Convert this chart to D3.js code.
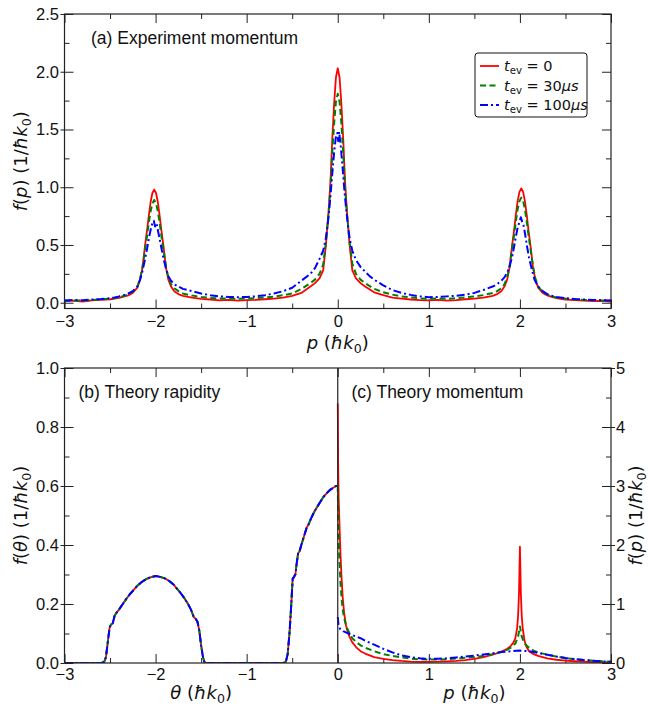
<!DOCTYPE html>
<html>
<head>
<meta charset="utf-8">
<script src="https://cdnjs.cloudflare.com/ajax/libs/d3/7.8.5/d3.min.js"></script>
<style>
  body { margin: 0; background: #fff; }
  svg { display: block; }
  .tick text { font-family: "Liberation Sans", Arial, sans-serif; font-size: 16.5px; fill: #111; }
  .tick line { stroke: #222; stroke-width: 1; }
</style>
</head>
<body>
<script>
// (a) experiment momentum, [p, f(p)]
const expRed = [[-3,0.012],[-2.9,0.018],[-2.8,0.010],[-2.7,0.020],[-2.6,0.024],[-2.5,0.030],[-2.45,0.036],[-2.4,0.042],[-2.35,0.052],[-2.3,0.064],[-2.25,0.085],[-2.2,0.13],[-2.17,0.2],[-2.145,0.3],[-2.115,0.5],[-2.095,0.62],[-2.075,0.75],[-2.055,0.87],[-2.035,0.95],[-2.015,0.98],[-1.995,0.95],[-1.975,0.87],[-1.955,0.75],[-1.935,0.62],[-1.915,0.5],[-1.885,0.3],[-1.86,0.2],[-1.83,0.14],[-1.795,0.1],[-1.75,0.075],[-1.7,0.06],[-1.6,0.045],[-1.5,0.034],[-1.4,0.028],[-1.3,0.020],[-1.2,0.024],[-1.1,0.018],[-1.0,0.022],[-0.9,0.024],[-0.8,0.03],[-0.7,0.036],[-0.6,0.045],[-0.5,0.06],[-0.4,0.085],[-0.3,0.14],[-0.25,0.17],[-0.2,0.21],[-0.16,0.28],[-0.13,0.5],[-0.1,0.8],[-0.08,1.05],[-0.06,1.42],[-0.04,1.72],[-0.02,1.95],[0,2.03],[0.02,1.95],[0.04,1.72],[0.06,1.42],[0.08,1.05],[0.1,0.8],[0.13,0.5],[0.16,0.28],[0.2,0.21],[0.25,0.17],[0.3,0.14],[0.4,0.09],[0.5,0.065],[0.6,0.045],[0.7,0.035],[0.8,0.028],[0.9,0.022],[1.0,0.02],[1.1,0.024],[1.2,0.018],[1.3,0.022],[1.4,0.03],[1.5,0.036],[1.6,0.045],[1.7,0.06],[1.75,0.075],[1.795,0.1],[1.83,0.14],[1.86,0.2],[1.885,0.3],[1.915,0.5],[1.935,0.62],[1.955,0.76],[1.975,0.88],[1.995,0.96],[2.015,0.99],[2.035,0.96],[2.055,0.88],[2.075,0.76],[2.095,0.62],[2.115,0.5],[2.145,0.3],[2.17,0.2],[2.2,0.13],[2.25,0.085],[2.3,0.064],[2.35,0.05],[2.4,0.04],[2.5,0.028],[2.6,0.022],[2.7,0.018],[2.8,0.014],[2.9,0.016],[3,0.01]]
const expGreen = [[-3,0.016],[-2.9,0.02],[-2.8,0.018],[-2.7,0.024],[-2.6,0.028],[-2.5,0.035],[-2.45,0.04],[-2.4,0.048],[-2.35,0.058],[-2.3,0.072],[-2.25,0.095],[-2.2,0.14],[-2.17,0.21],[-2.145,0.3],[-2.115,0.46],[-2.095,0.57],[-2.075,0.69],[-2.055,0.79],[-2.035,0.86],[-2.015,0.89],[-1.995,0.86],[-1.975,0.79],[-1.955,0.69],[-1.935,0.57],[-1.915,0.47],[-1.885,0.31],[-1.86,0.22],[-1.83,0.16],[-1.795,0.125],[-1.75,0.1],[-1.7,0.08],[-1.6,0.062],[-1.5,0.05],[-1.4,0.042],[-1.3,0.036],[-1.2,0.038],[-1.1,0.034],[-1.0,0.036],[-0.9,0.04],[-0.8,0.045],[-0.7,0.052],[-0.6,0.065],[-0.5,0.08],[-0.4,0.12],[-0.3,0.17],[-0.25,0.2],[-0.2,0.25],[-0.16,0.33],[-0.13,0.52],[-0.1,0.78],[-0.08,1.0],[-0.06,1.3],[-0.04,1.55],[-0.02,1.74],[0,1.81],[0.02,1.74],[0.04,1.55],[0.06,1.3],[0.08,1.0],[0.1,0.78],[0.13,0.52],[0.16,0.34],[0.2,0.25],[0.25,0.2],[0.3,0.17],[0.4,0.12],[0.5,0.09],[0.6,0.07],[0.7,0.055],[0.8,0.046],[0.9,0.038],[1.0,0.034],[1.1,0.036],[1.2,0.034],[1.3,0.04],[1.4,0.046],[1.5,0.055],[1.6,0.066],[1.7,0.085],[1.75,0.1],[1.795,0.125],[1.83,0.16],[1.86,0.22],[1.885,0.31],[1.915,0.48],[1.935,0.58],[1.955,0.7],[1.975,0.81],[1.995,0.88],[2.015,0.91],[2.035,0.88],[2.055,0.81],[2.075,0.7],[2.095,0.58],[2.115,0.47],[2.145,0.31],[2.17,0.21],[2.2,0.14],[2.25,0.095],[2.3,0.07],[2.35,0.056],[2.4,0.046],[2.5,0.036],[2.6,0.03],[2.7,0.024],[2.8,0.022],[2.9,0.02],[3,0.018]]
const expBlue = [[-3,0.02],[-2.9,0.024],[-2.8,0.022],[-2.7,0.028],[-2.6,0.032],[-2.5,0.04],[-2.45,0.046],[-2.4,0.055],[-2.35,0.066],[-2.3,0.08],[-2.25,0.1],[-2.2,0.14],[-2.17,0.2],[-2.145,0.27],[-2.115,0.38],[-2.095,0.46],[-2.075,0.55],[-2.055,0.63],[-2.035,0.69],[-2.02,0.71],[-2.005,0.66],[-1.99,0.69],[-1.975,0.63],[-1.955,0.55],[-1.935,0.47],[-1.915,0.39],[-1.885,0.29],[-1.86,0.23],[-1.83,0.19],[-1.795,0.16],[-1.75,0.14],[-1.7,0.12],[-1.6,0.1],[-1.5,0.08],[-1.4,0.065],[-1.3,0.055],[-1.2,0.05],[-1.1,0.048],[-1.0,0.05],[-0.9,0.055],[-0.8,0.065],[-0.7,0.08],[-0.6,0.1],[-0.5,0.13],[-0.4,0.19],[-0.3,0.25],[-0.25,0.3],[-0.2,0.38],[-0.16,0.45],[-0.13,0.56],[-0.1,0.75],[-0.08,0.92],[-0.06,1.12],[-0.04,1.3],[-0.02,1.44],[-0.005,1.47],[0.005,1.4],[0.015,1.48],[0.03,1.38],[0.05,1.2],[0.07,1.0],[0.09,0.83],[0.11,0.68],[0.13,0.56],[0.16,0.45],[0.2,0.37],[0.25,0.31],[0.3,0.27],[0.35,0.23],[0.4,0.2],[0.5,0.15],[0.6,0.11],[0.7,0.085],[0.8,0.068],[0.9,0.055],[1.0,0.048],[1.1,0.05],[1.2,0.055],[1.3,0.06],[1.4,0.07],[1.5,0.085],[1.6,0.11],[1.7,0.14],[1.75,0.16],[1.795,0.19],[1.83,0.22],[1.86,0.26],[1.885,0.31],[1.915,0.4],[1.935,0.48],[1.955,0.57],[1.975,0.65],[1.995,0.7],[2.01,0.74],[2.025,0.7],[2.04,0.67],[2.06,0.58],[2.08,0.48],[2.1,0.39],[2.13,0.29],[2.16,0.2],[2.2,0.14],[2.25,0.1],[2.3,0.075],[2.35,0.06],[2.4,0.05],[2.5,0.04],[2.6,0.032],[2.7,0.028],[2.8,0.024],[2.9,0.022],[3,0.02]]

// (b) theory rapidity, [theta, f(theta)] - the three curves lie on top of each other
const rapidity = [[-3,0],[-2.6,0],[-2.565,0.003],[-2.545,0.02],[-2.525,0.07],[-2.505,0.12],[-2.49,0.13],[-2.47,0.135],[-2.45,0.16],[-2.43,0.17],[-2.4,0.182],[-2.36,0.2],[-2.32,0.218],[-2.28,0.234],[-2.24,0.248],[-2.2,0.262],[-2.15,0.275],[-2.1,0.285],[-2.05,0.291],[-2.0,0.295],[-1.95,0.292],[-1.9,0.287],[-1.85,0.278],[-1.8,0.265],[-1.76,0.25],[-1.72,0.235],[-1.68,0.218],[-1.64,0.198],[-1.61,0.18],[-1.58,0.155],[-1.56,0.15],[-1.54,0.14],[-1.52,0.11],[-1.5,0.06],[-1.48,0.02],[-1.46,0],[-0.6,0],[-0.57,0.004],[-0.55,0.03],[-0.53,0.1],[-0.51,0.2],[-0.495,0.285],[-0.48,0.292],[-0.465,0.3],[-0.45,0.34],[-0.435,0.372],[-0.42,0.378],[-0.4,0.4],[-0.38,0.42],[-0.36,0.44],[-0.34,0.46],[-0.32,0.47],[-0.3,0.485],[-0.27,0.505],[-0.24,0.522],[-0.2,0.542],[-0.16,0.562],[-0.12,0.576],[-0.08,0.588],[-0.04,0.596],[-0.02,0.6],[0,0.6]]

// (c) theory momentum, [p, f(p)]
const momRed = [[0,4.4],[0.005,3.3],[0.01,2.8],[0.02,2.3],[0.03,1.85],[0.04,1.5],[0.055,1.1],[0.07,0.85],[0.09,0.64],[0.11,0.52],[0.13,0.44],[0.16,0.35],[0.2,0.27],[0.25,0.2],[0.3,0.16],[0.4,0.1],[0.5,0.07],[0.6,0.05],[0.7,0.035],[0.8,0.025],[0.9,0.02],[1.0,0.02],[1.1,0.022],[1.2,0.028],[1.3,0.036],[1.4,0.05],[1.5,0.07],[1.6,0.1],[1.7,0.14],[1.78,0.18],[1.85,0.23],[1.9,0.29],[1.93,0.35],[1.95,0.42],[1.97,0.6],[1.98,0.8],[1.99,1.2],[1.995,1.6],[2.0,1.97],[2.005,1.6],[2.01,1.2],[2.02,0.8],[2.03,0.6],[2.05,0.38],[2.07,0.28],[2.1,0.2],[2.15,0.15],[2.2,0.12],[2.3,0.08],[2.4,0.055],[2.5,0.04],[2.6,0.03],[2.7,0.022],[2.8,0.016],[2.9,0.012],[3.0,0.01]]
const momGreen = [[0,3.0],[0.005,2.5],[0.01,2.1],[0.02,1.7],[0.03,1.35],[0.045,1.05],[0.06,0.85],[0.08,0.7],[0.1,0.6],[0.13,0.5],[0.16,0.42],[0.2,0.36],[0.25,0.3],[0.3,0.26],[0.4,0.2],[0.5,0.15],[0.6,0.12],[0.7,0.095],[0.8,0.075],[0.9,0.063],[1.0,0.057],[1.1,0.058],[1.2,0.065],[1.3,0.075],[1.4,0.088],[1.5,0.1],[1.6,0.12],[1.7,0.15],[1.8,0.19],[1.85,0.22],[1.9,0.26],[1.95,0.33],[1.98,0.45],[2.0,0.62],[2.02,0.45],[2.05,0.33],[2.1,0.26],[2.15,0.21],[2.2,0.18],[2.3,0.14],[2.4,0.11],[2.5,0.085],[2.6,0.065],[2.7,0.05],[2.8,0.038],[2.9,0.028],[3.0,0.02]]
const momBlue = [[0,0.78],[0.01,0.62],[0.03,0.57],[0.06,0.54],[0.1,0.51],[0.15,0.48],[0.2,0.45],[0.25,0.42],[0.3,0.38],[0.4,0.31],[0.5,0.24],[0.6,0.18],[0.7,0.13],[0.8,0.1],[0.9,0.08],[1.0,0.07],[1.1,0.07],[1.2,0.08],[1.3,0.095],[1.4,0.11],[1.5,0.125],[1.6,0.145],[1.7,0.165],[1.8,0.185],[1.9,0.2],[2.0,0.21],[2.1,0.2],[2.2,0.17],[2.3,0.14],[2.4,0.11],[2.5,0.085],[2.6,0.065],[2.7,0.05],[2.8,0.038],[2.9,0.028],[3.0,0.02]]

// ticks
const xMajor = [-3, -2, -1, 0, 1, 2, 3]
const xMinor = [-2.5, -1.5, -0.5, 0.5, 1.5, 2.5]
const yTopMajor = [0, 0.5, 1, 1.5, 2, 2.5]
const yTopMinor = [0.25, 0.75, 1.25, 1.75, 2.25]
const yThMajor = [0, 0.2, 0.4, 0.6, 0.8, 1]
const yThMinor = [0.1, 0.3, 0.5, 0.7, 0.9]
const yMomMajor = [0, 1, 2, 3, 4, 5]
const yMomMinor = [0.5, 1.5, 2.5, 3.5, 4.5]

const legendLabels = [
  [['t', 'i'], ['ev', 'sub'], [' = 0', '']],
  [['t', 'i'], ['ev', 'sub'], [' = 30', ''], ['μs', 'i']],
  [['t', 'i'], ['ev', 'sub'], [' = 100', ''], ['μs', 'i']]
]

const styles = [
  { color: '#ff0000', dash: null, width: 1.8 },
  { color: '#008000', dash: '6,3.5', width: 2 },
  { color: '#0000ff', dash: '8,3,2,3', width: 2 }
]

const W = 648, H = 706
const xL = 64.5, xR = 611
const topT = 14, topB = 308.5
const botT = 368, botB = 663

const svg = d3.select('body').append('svg').attr('width', W).attr('height', H)

const x = d3.scaleLinear().domain([-3, 3]).range([xL, xR])
const yTop = d3.scaleLinear().domain([-0.05, 2.5]).range([topB, topT])
const yTh = d3.scaleLinear().domain([0, 1]).range([botB, botT])
const yMom = d3.scaleLinear().domain([0, 5]).range([botB, botT])

const mathFont = '"DejaVu Sans", sans-serif'
const plainFont = '"Liberation Sans", Arial, sans-serif'

// text with italic pieces and subscripts, mathtext style
function mathText(g, pieces, size) {
  const t = g.append('text').attr('font-family', mathFont).attr('font-size', size).attr('fill', '#111')
  let shifted = false
  pieces.forEach(([s, kind]) => {
    const ts = t.append('tspan').text(s)
    if (kind === 'sub') {
      ts.attr('font-size', size * 0.7).attr('dy', size * 0.22)
      shifted = true
    } else {
      if (shifted) { ts.attr('dy', -size * 0.22); shifted = false }
      if (kind === 'i') ts.attr('font-style', 'italic')
    }
  })
  return t
}

function addAxis(axis, tx, ty) {
  const g = svg.append('g').attr('transform', `translate(${tx},${ty})`).call(axis)
  g.select('.domain').remove()
  return g
}

function frameTicks(yScale, top, bottom, showXLabels, xPad) {
  addAxis(d3.axisBottom(x).tickValues(xMajor).tickSize(-9).tickPadding(xPad)
    .tickFormat(showXLabels ? d3.format('d') : ''), 0, bottom)
  addAxis(d3.axisBottom(x).tickValues(xMinor).tickSize(-5).tickFormat(''), 0, bottom)
  addAxis(d3.axisTop(x).tickValues(xMajor).tickSize(-9).tickFormat(''), 0, top)
  addAxis(d3.axisTop(x).tickValues(xMinor).tickSize(-5).tickFormat(''), 0, top)
}

// ---------- panel (a) ----------
frameTicks(yTop, topT, topB, true, 6.5)
addAxis(d3.axisLeft(yTop).tickValues(yTopMajor).tickSize(-9).tickPadding(5.5).tickFormat(d3.format('.1f')), xL, 0)
addAxis(d3.axisLeft(yTop).tickValues(yTopMajor).tickSize(4).tickFormat(''), xL, 0)
addAxis(d3.axisLeft(yTop).tickValues(yTopMinor).tickSize(-5).tickFormat(''), xL, 0)
addAxis(d3.axisRight(yTop).tickValues(yTopMajor).tickSize(-9).tickFormat(''), xR, 0)
addAxis(d3.axisRight(yTop).tickValues(yTopMinor).tickSize(-5).tickFormat(''), xR, 0)

svg.append('clipPath').attr('id', 'clipA').append('rect')
  .attr('x', xL).attr('y', topT).attr('width', xR - xL).attr('height', topB - topT)

const lineA = d3.line().x(d => x(d[0])).y(d => yTop(d[1]))
const gA = svg.append('g').attr('clip-path', 'url(#clipA)')
;[expRed, expGreen, expBlue].forEach((data, i) => {
  gA.append('path').datum(data).attr('d', lineA).attr('fill', 'none')
    .attr('stroke', styles[i].color).attr('stroke-width', styles[i].width)
    .attr('stroke-dasharray', styles[i].dash).attr('stroke-linejoin', 'round')
})

svg.append('rect').attr('x', xL).attr('y', topT).attr('width', xR - xL).attr('height', topB - topT)
  .attr('fill', 'none').attr('stroke', '#222').attr('stroke-width', 1.2)

svg.append('text').attr('x', 91).attr('y', 43.5).attr('font-family', plainFont).attr('font-size', 17.5)
  .attr('fill', '#111').text('(a) Experiment momentum')

// legend
const leg = svg.append('g')
leg.append('rect').attr('x', 475).attr('y', 53).attr('width', 112).attr('height', 64).attr('rx', 3)
  .attr('fill', '#fff').attr('stroke', '#111').attr('stroke-width', 1)
legendLabels.forEach((lab, i) => {
  const yy = 66 + i * 19.5
  leg.append('line').attr('x1', 480).attr('x2', 499).attr('y1', yy).attr('y2', yy)
    .attr('stroke', styles[i].color).attr('stroke-width', styles[i].width)
    .attr('stroke-dasharray', styles[i].dash)
  mathText(leg, lab, 14.5).attr('x', 504).attr('y', yy + 5)
})

mathText(svg, [['p', 'i'], [' (', ''], ['ħk', 'i'], ['0', 'sub'], [')', '']], 18)
  .attr('x', x(0)).attr('y', 349).attr('text-anchor', 'middle')
mathText(svg, [['f', 'i'], ['(', ''], ['p', 'i'], [') (1/', ''], ['ħk', 'i'], ['0', 'sub'], [')', '']], 18)
  .attr('text-anchor', 'middle').attr('transform', `translate(27,${(topT + topB) / 2}) rotate(-90)`)

// ---------- panels (b) and (c) ----------
frameTicks(yTh, botT, botB, true, 5)
addAxis(d3.axisLeft(yTh).tickValues(yThMajor).tickSize(-9).tickPadding(5.5).tickFormat(d3.format('.1f')), xL, 0)
addAxis(d3.axisLeft(yTh).tickValues(yThMajor).tickSize(4).tickFormat(''), xL, 0)
addAxis(d3.axisLeft(yTh).tickValues(yThMinor).tickSize(-5).tickFormat(''), xL, 0)
addAxis(d3.axisRight(yMom).tickValues(yMomMajor).tickSize(-9).tickPadding(5).tickFormat(d3.format('d')), xR, 0)
addAxis(d3.axisRight(yMom).tickValues(yMomMajor).tickSize(4).tickFormat(''), xR, 0)
addAxis(d3.axisRight(yMom).tickValues(yMomMinor).tickSize(-5).tickFormat(''), xR, 0)

svg.append('clipPath').attr('id', 'clipB').append('rect')
  .attr('x', xL).attr('y', botT).attr('width', xR - xL).attr('height', botB - botT)

const gB = svg.append('g').attr('clip-path', 'url(#clipB)')
const lineTh = d3.line().x(d => x(d[0])).y(d => yTh(d[1]))
const lineMom = d3.line().x(d => x(d[0])).y(d => yMom(d[1]))
;[rapidity, rapidity, rapidity].forEach((data, i) => {
  gB.append('path').datum(data).attr('d', lineTh).attr('fill', 'none')
    .attr('stroke', styles[i].color).attr('stroke-width', styles[i].width)
    .attr('stroke-dasharray', styles[i].dash).attr('stroke-linejoin', 'round')
})
;[momRed, momGreen, momBlue].forEach((data, i) => {
  gB.append('path').datum(data).attr('d', lineMom).attr('fill', 'none')
    .attr('stroke', styles[i].color).attr('stroke-width', styles[i].width)
    .attr('stroke-dasharray', styles[i].dash).attr('stroke-linejoin', 'round')
})

svg.append('line').attr('x1', x(0)).attr('x2', x(0)).attr('y1', botT).attr('y2', botB)
  .attr('stroke', '#222').attr('stroke-width', 1.2)
svg.append('rect').attr('x', xL).attr('y', botT).attr('width', xR - xL).attr('height', botB - botT)
  .attr('fill', 'none').attr('stroke', '#222').attr('stroke-width', 1.2)

svg.append('text').attr('x', 78.5).attr('y', 397.5).attr('font-family', plainFont).attr('font-size', 17.5)
  .attr('fill', '#111').text('(b) Theory rapidity')
svg.append('text').attr('x', 351.5).attr('y', 397.5).attr('font-family', plainFont).attr('font-size', 17.5)
  .attr('fill', '#111').text('(c) Theory momentum')

mathText(svg, [['θ', 'i'], [' (', ''], ['ħk', 'i'], ['0', 'sub'], [')', '']], 18)
  .attr('x', x(-1.5)).attr('y', 699).attr('text-anchor', 'middle')
mathText(svg, [['p', 'i'], [' (', ''], ['ħk', 'i'], ['0', 'sub'], [')', '']], 18)
  .attr('x', x(1.5)).attr('y', 699).attr('text-anchor', 'middle')
mathText(svg, [['f', 'i'], ['(', ''], ['θ', 'i'], [') (1/', ''], ['ħk', 'i'], ['0', 'sub'], [')', '']], 18)
  .attr('text-anchor', 'middle').attr('transform', `translate(27,${(botT + botB) / 2}) rotate(-90)`)
mathText(svg, [['f', 'i'], ['(', ''], ['p', 'i'], [') (1/', ''], ['ħk', 'i'], ['0', 'sub'], [')', '']], 18)
  .attr('text-anchor', 'middle').attr('transform', `translate(642,${(botT + botB) / 2}) rotate(-90)`)
</script>
</body>
</html>
